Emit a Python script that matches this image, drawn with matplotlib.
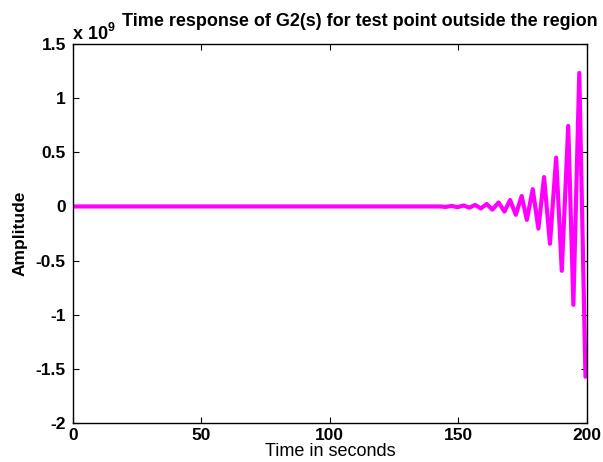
import matplotlib
matplotlib.use("Agg")
import matplotlib.pyplot as plt
import numpy as np

# Extrema of the response (time in s, amplitude in units of 1e9)
time_s = [0.0, 143.0, 145.0, 147.4, 149.6, 152.0, 154.2, 156.5, 158.7, 161.0, 163.2,
          165.6, 167.9, 170.1, 172.3, 174.6, 176.6, 178.9, 181.1, 183.3, 185.6,
          188.0, 190.2, 192.7, 194.7, 197.0, 199.4]
amp_e9 = [0.0, 0.0, -0.004, 0.005, -0.007, 0.009, -0.011, 0.014, -0.018, 0.023, -0.029,
          0.037, -0.047, 0.060, -0.077, 0.097, -0.124, 0.160, -0.205, 0.272, -0.345,
          0.452, -0.595, 0.745, -0.910, 1.235, -1.575]

scale = 1e9
x_ticks = [0, 50, 100, 150, 200]
x_tick_labels = ["0", "50", "100", "150", "200"]
y_ticks = [-2, -1.5, -1, -0.5, 0, 0.5, 1, 1.5]
y_tick_labels = ["-2", "-1.5", "-1", "-0.5", "0", "0.5", "1", "1.5"]

title = "Time response of G2(s) for test point outside the region"
xlabel = "Time in seconds"
ylabel = "Amplitude"

plt.rcParams['font.family'] = ['Liberation Sans', 'DejaVu Sans']

W, H = 603, 462
L, R, T, B = 72.7, 587.0, 44.3, 422.7
fig = plt.figure(figsize=(W / 100, H / 100), dpi=100)
ax = fig.add_axes([L / W, 1 - B / H, (R - L) / W, (B - T) / H])

amp = np.array(amp_e9) * scale
ax.plot(time_s, amp, color="#FF00FF", lw=3.0, solid_joinstyle="round",
        solid_capstyle="round")

ax.set_xlim(0, 200)
ax.set_ylim(-2 * scale, 1.5 * scale)
ax.set_xticks(x_ticks)
ax.set_xticklabels(x_tick_labels, fontsize=12.5, fontweight="bold")
ax.set_yticks([v * scale for v in y_ticks])
ax.set_yticklabels(y_tick_labels, fontsize=12.5, fontweight="bold")
ax.tick_params(direction="in", length=4, width=0.8, top=True, right=True)
ax.tick_params(axis="x", pad=4)
ax.tick_params(axis="y", pad=5)
for s in ax.spines.values():
    s.set_linewidth(1.0)

ax.set_xlabel(xlabel, fontsize=13, va="baseline")
ax.xaxis.set_label_coords(0.5, (B - 456.5) / (B - T))
ax.set_ylabel(ylabel, fontsize=12.5, fontweight="bold", va="center", ha="center")
ax.yaxis.set_label_coords((20 - L) / (R - L), 0.5)

fig.text(121.5 / W, 1 - 26 / H, title, fontsize=13, fontweight="bold",
         ha="left", va="baseline")
ax.text(0.0, (B - 39) / (B - T), "x 10", transform=ax.transAxes, fontsize=13,
        fontweight="bold", ha="left", va="baseline")
ax.text((108 - L) / (R - L), (B - 31) / (B - T), "9", transform=ax.transAxes,
        fontsize=9, fontweight="bold", ha="left", va="baseline")

fig.savefig("out.png", dpi=100)
